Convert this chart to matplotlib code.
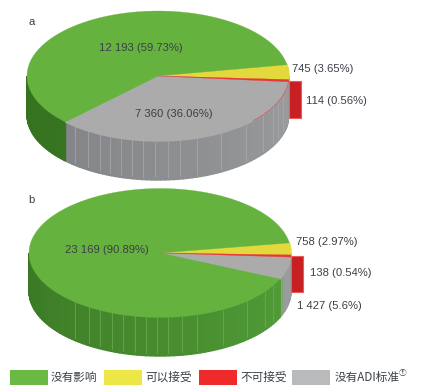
import numpy as np
import matplotlib
matplotlib.use('Agg')
import matplotlib.pyplot as plt
from matplotlib.patches import Polygon, Rectangle

plt.rcParams['font.family'] = ['Liberation Sans', 'Noto Sans CJK SC', 'DejaVu Sans']

categories = ['没有影响', '可以接受', '不可接受', '没有ADI标准']
values_a = [12193, 745, 114, 7360]
values_b = [23169, 758, 138, 1427]
labels_a = ['12 193 (59.73%)', '745 (3.65%)', '114 (0.56%)', '7 360 (36.06%)']
labels_b = ['23 169 (90.89%)', '758 (2.97%)', '138 (0.54%)', '1 427 (5.6%)']

top_colors = ['#66b23f', '#e3d93c', '#e8363a', '#ababab']
legend_colors = ['#6ab944', '#ece647', '#ee2a2a', '#b9babc']
text_color = '#3a4046'

fig = plt.figure(figsize=(4.25, 3.92), dpi=100)
ax = fig.add_axes([0, 0, 1, 1])
ax.set_xlim(0, 425)
ax.set_ylim(392, 0)
ax.axis('off')


def mix(c1, c2, t):
    c1 = np.array(matplotlib.colors.to_rgb(c1))
    c2 = np.array(matplotlib.colors.to_rgb(c2))
    return c1 + (c2 - c1) * t


def draw_pie(values, cx, cy, rx, ry, depth, start, side, stripes, stripe_color, red_arc):
    # кути йдуть за годинниковою стрілкою, порядок: жовтий, червоний, сірий, зелений
    total = sum(values)
    order = [1, 2, 3, 0]
    angles = {}
    a = start
    for i in order:
        sweep = values[i] / total * 360
        angles[i] = (a, a - sweep)
        a -= sweep

    def pt(t):
        t = np.radians(t)
        return cx + rx * np.cos(t), cy - ry * np.sin(t)

    # бічна стінка
    for i in order:
        a1, a2 = angles[i]
        if i == 2:
            continue
        t1 = min(a1, 0)
        t2 = max(a2, -180)
        if t1 <= t2:
            continue
        tt = np.arange(t2, t1 + 2, 2.0)
        tt[-1] = t1
        for s, e in zip(tt[:-1], tt[1:]):
            x1, y1 = pt(s)
            x2, y2 = pt(e)
            col = mix(side[i][0], side[i][1], np.clip(1 + e / 180, 0, 1))
            ax.add_patch(Polygon([(x1, y1), (x2, y2), (x2, y2 + depth), (x1, y1 + depth)],
                                 closed=True, fc=col, ec=col, lw=1.0, zorder=2))

    # світлі смужки на стінці
    for sx in stripes:
        k = (sx - cx) / rx
        y0 = cy + ry * np.sqrt(1 - k ** 2)
        ax.plot([sx, sx], [y0, y0 + depth * 0.93], color=stripe_color, lw=0.5, zorder=3)

    # червоний блок праворуч
    a1, a2 = angles[2]
    xr, yr = pt(a1)
    ax.add_patch(Rectangle((xr, yr + 1), 12.5, depth - 2, fc='#c81f22', ec='#ea5a5c', lw=0.8, zorder=4))

    # верх
    for i in order:
        a1, a2 = angles[i]
        tt = np.linspace(a1, a2, 200)
        x, y = pt(tt)
        poly = np.column_stack([np.r_[cx, x], np.r_[cy, y]])
        lw = 1.0 if i in (1, 3) else 0.2
        ax.add_patch(Polygon(poly, closed=True, fc=top_colors[i], ec=top_colors[i], lw=lw,
                             zorder=6 if i == 2 else 5))

    if red_arc:
        x, y = pt(np.linspace(angles[2][1], angles[2][1] - 38, 60))
        ax.plot(x, y, color='#e0494c', lw=0.5, zorder=6)


side_a = {0: ('#35721f', '#3c7c27'), 1: ('#b8ae2a', '#b8ae2a'), 3: ('#7b7d80', '#9b9c9e')}
side_b = {0: ('#3a7724', '#54a03a'), 1: ('#b8ae2a', '#b8ae2a'), 3: ('#8a8b90', '#9b9c9e')}
stripes_a = np.array([225, 265, 300, 330, 362, 395, 430, 465, 503, 541, 590, 663, 737, 790, 818, 835, 850]) / 3
stripes_b = np.array([226, 267, 300, 337, 370, 405, 437, 470, 505, 545, 592, 668, 740, 795, 820, 845]) / 3

draw_pie(values_a, 158, 76, 131, 65, 39, 10, side_a, stripes_a, '#a9abad', True)
draw_pie(values_b, 160, 253, 131, 64.5, 38.5, 9, side_b, stripes_b, '#6fae55', False)

fs = 8.1
ax.text(28.5, 22, 'a', fontsize=fs, color=text_color, ha='left', va='center')
ax.text(28.5, 199.5, 'b', fontsize=fs, color=text_color, ha='left', va='center')

pos_a = [(99, 48), (292, 69), (306, 101), (135, 114)]
pos_b = [(65, 249.5), (296, 242), (310, 272.5), (297, 306)]
for (x, y), t in zip(pos_a, labels_a):
    ax.text(x, y, t, fontsize=fs, color=text_color, ha='left', va='center', zorder=8)
for (x, y), t in zip(pos_b, labels_b):
    ax.text(x, y, t, fontsize=fs, color=text_color, ha='left', va='center', zorder=8)

# легенда
box_x = [10, 104, 199, 292]
text_x = [51, 145, 240, 335]
for name, col, bx, tx in zip(categories, legend_colors, box_x, text_x):
    ax.add_patch(Rectangle((bx, 370), 38, 15, fc=col, ec='none'))
    ax.text(tx, 377.5, name, fontsize=8.4, color=text_color, ha='left', va='center',
            family=['Noto Sans CJK SC', 'DejaVu Sans'])
ax.text(399, 372.5, '①', fontsize=5.5, color=text_color, ha='left', va='center',
        family=['Noto Sans CJK SC', 'DejaVu Sans'])

fig.savefig('out.png', dpi=100)
